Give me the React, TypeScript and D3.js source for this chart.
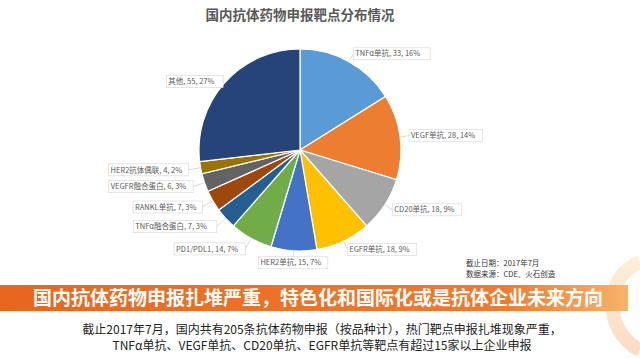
import * as d3 from "d3";

const categories = [
  "TNFα单抗",
  "VEGF单抗",
  "CD20单抗",
  "EGFR单抗",
  "HER2单抗",
  "PD1/PDL1",
  "TNFα融合蛋白",
  "RANKL单抗",
  "VEGFR融合蛋白",
  "HER2抗体偶联",
  "其他",
];
const counts = [33, 28, 18, 18, 15, 14, 7, 7, 6, 4, 55];
const colors = [
  "#5B9BD5",
  "#ED7D31",
  "#A5A5A5",
  "#FFC000",
  "#4472C4",
  "#70AD47",
  "#255E91",
  "#9E480E",
  "#636363",
  "#997300",
  "#264478",
];

const title = "国内抗体药物申报靶点分布情况";
const sourceLines = ["截止日期：2017年7月", "数据来源：CDE、火石创造"];
const bannerText = "国内抗体药物申报扎堆严重，特色化和国际化或是抗体企业未来方向";
const bodyLines = [
  "截止2017年7月，国内共有205条抗体药物申报（按品种计），热门靶点申报扎堆现象严重，",
  "TNFα单抗、VEGF单抗、CD20单抗、EGFR单抗等靶点有超过15家以上企业申报",
];

const W = 640;
const H = 358;
const cx = 300;
const cy = 150;
const radius = 101;
const font = "'Noto Sans CJK SC', 'Noto Sans', sans-serif";

const App = () => {
  const total = d3.sum(counts);
  const data = categories.map((name, i) => ({ name, value: counts[i], color: colors[i] }));

  const pie = d3
    .pie<{ name: string; value: number; color: string }>()
    .value((d) => d.value)
    .sort(null);
  const arcs = pie(data);
  const arc = d3.arc<d3.PieArcDatum<any>>().innerRadius(0).outerRadius(radius);

  const labels = arcs.map((a) => {
    const mid = (a.startAngle + a.endAngle) / 2;
    const sin = Math.sin(mid);
    const cos = Math.cos(mid);
    // big slices sit a bit closer, like excel's best-fit labels
    const lr = radius + (a.value > 50 ? 2 : sin > 0 ? 9 : 12);
    const x = sin * lr;
    const y = -cos * lr;
    const pct = Math.round((a.data.value / total) * 100);
    const text = `${a.data.name}, ${a.data.value}, ${pct}%`;
    const anchor = Math.abs(sin) < 0.2 ? "middle" : sin > 0 ? "start" : "end";
    return { a, mid, x, y, text, anchor, ex: sin * radius, ey: -cos * radius };
  });

  const charW = (s: string, size: number) =>
    Array.from(s).reduce((acc, ch) => acc + (ch.charCodeAt(0) > 255 ? size : size * 0.56), 0);

  return (
    <svg
      width={W}
      height={H}
      style={{ position: "absolute", left: 0, top: 0, background: "#fff" }}
      fontFamily={font}
    >
      <defs>
        <linearGradient id="banner" x1="0" x2="1" y1="0" y2="0">
          <stop offset="0%" stopColor="#E8661E" />
          <stop offset="80%" stopColor="#EF7B2E" />
          <stop offset="100%" stopColor="#F6B36A" />
        </linearGradient>
        <linearGradient id="deco" x1="0" x2="0" y1="0" y2="1">
          <stop offset="0%" stopColor="#FBD9A6" />
          <stop offset="100%" stopColor="#F7B07A" />
        </linearGradient>
      </defs>

      <path
        d="M640,262 C604,276 602,330 640,350"
        fill="none"
        stroke="url(#deco)"
        strokeWidth={14}
        opacity={0.45}
      />

      <text
        x={cx}
        y={20}
        textAnchor="middle"
        fontSize={13.5}
        fontWeight="bold"
        fill="#595959"
      >
        {title}
      </text>

      <g transform={`translate(${cx},${cy})`}>
        {arcs.map((a, i) => (
          <path key={i} d={arc(a) as string} fill={a.data.color} stroke="#fff" strokeWidth={1.2} />
        ))}
        {labels.map((l, i) => {
          const fs = 7.5;
          const w = charW(l.text, fs) + 4;
          const h = 12;
          const bx = l.anchor === "start" ? l.x : l.anchor === "end" ? l.x - w : l.x - w / 2;
          const by = l.y - h / 2;
          return (
            <g key={i}>
              <line
                x1={l.ex}
                y1={l.ey}
                x2={l.x}
                y2={l.anchor === "middle" ? by : l.y}
                stroke="#bfbfbf"
                strokeWidth={0.6}
              />
              <rect x={bx} y={by} width={w} height={h} fill="#fff" stroke="#d9d9d9" strokeWidth={0.7} />
              <text x={bx + 2} y={l.y + 2.7} fontSize={fs} fill="#595959">
                {l.text}
              </text>
            </g>
          );
        })}
      </g>

      {sourceLines.map((s, i) => (
        <text key={i} x={466} y={266 + i * 11} fontSize={7.5} fill="#333">
          {s}
        </text>
      ))}

      <rect x={0} y={285} width={628} height={26} fill="url(#banner)" />
      <text
        x={318}
        y={305}
        textAnchor="middle"
        fontSize={19}
        fontWeight="bold"
        fill="#fff"
      >
        {bannerText}
      </text>

      {bodyLines.map((s, i) => (
        <text key={i} x={322} y={334 + i * 16} textAnchor="middle" fontSize={12} fill="#222">
          {s}
        </text>
      ))}
    </svg>
  );
};

export default App;
